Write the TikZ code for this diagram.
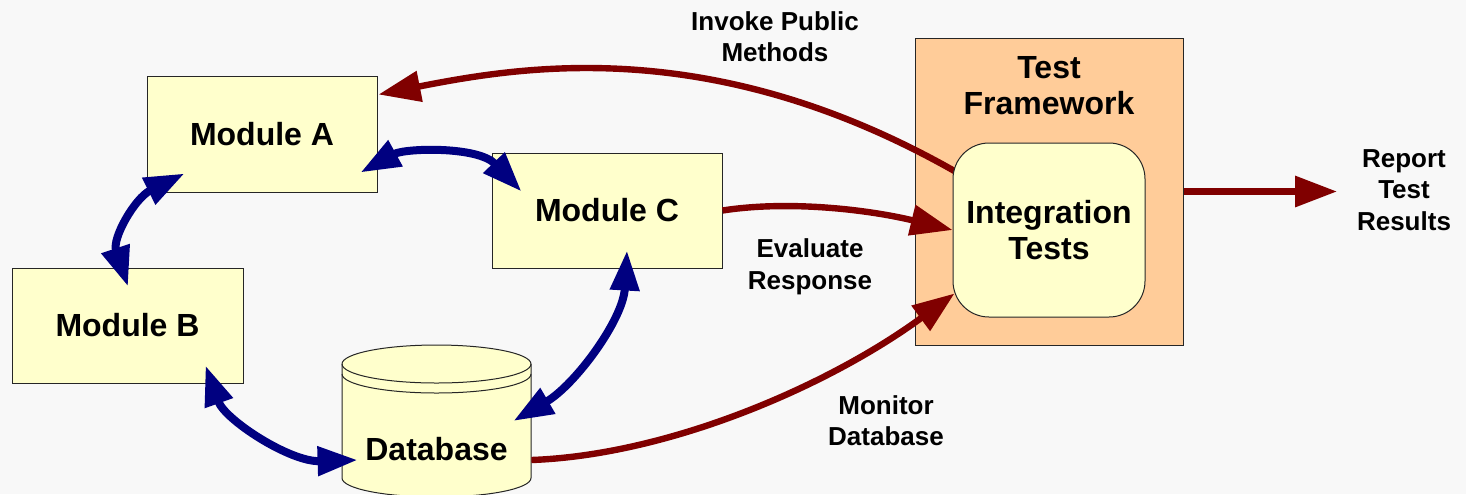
\documentclass[tikz,border=0pt]{standalone}
\usepackage{fontspec}
\setmainfont{Liberation Sans}
\usetikzlibrary{arrows.meta,calc}

\definecolor{bgcol}{HTML}{F8F8F8}
\definecolor{boxfill}{HTML}{FFFFCC}
\definecolor{fwfill}{HTML}{FFCC99}
\definecolor{edgecol}{HTML}{262626}
\definecolor{navyarrow}{HTML}{000080}
\definecolor{maroonarrow}{HTML}{800000}

\pgfdeclarelayer{under}
\pgfsetlayers{under,main}

\begin{document}
\begin{tikzpicture}[x=0.5pt,y=-0.5pt,
  module/.style={draw=edgecol, line width=0.5pt, fill=boxfill, inner sep=0pt,
    align=center, font=\fontsize{16}{18}\selectfont\bfseries},
  heading/.style={inner sep=0pt, align=center, font=\fontsize{16}{18}\selectfont\bfseries},
  caption/.style={inner sep=0pt, align=center, font=\fontsize{13}{15.75}\selectfont\bfseries},
  link/.style={navyarrow, line width=4pt,
    {Triangle[length=20pt,width=14pt]}-{Triangle[length=20pt,width=14pt]}},
  flow/.style={maroonarrow, line width=3.2pt, -{Triangle[length=21pt,width=15pt]}}]

\useasboundingbox (0,0) rectangle (1466,494);

% canvas and framework frame
\begin{pgfonlayer}{under}
  \fill[bgcol] (0,0) rectangle (1466,494);
  \node[draw=edgecol, line width=0.5pt, fill=fwfill, minimum width=134pt,
        minimum height=153.5pt] (TF) at (1049,191.5) {};
\end{pgfonlayer}
\node[heading] (tftitle) at (1049,86) {Test\\Framework};

% modules
\node[module, minimum width=115pt, minimum height=58pt] (A) at (262,134) {Module A};
\node[module, minimum width=115.5pt, minimum height=57.5pt] (B) at (127.5,325.5) {Module B};
\node[module, minimum width=115pt, minimum height=57.5pt] (C) at (607,210.5) {Module C};

% database cylinder
\node[minimum width=94.5pt, minimum height=76pt, inner sep=0pt] (db) at (436.5,421) {};
\path[fill=boxfill, draw=edgecol, line width=0.5pt]
  (342,364) -- (342,478)
  arc[start angle=180, end angle=360, x radius=47.25pt, y radius=9.5pt]
  -- (531,364)
  arc[start angle=0, end angle=180, x radius=47.25pt, y radius=9.5pt] -- cycle;
\draw[edgecol, line width=0.5pt]
  (342,364) arc[start angle=180, end angle=360, x radius=47.25pt, y radius=9.5pt];
\draw[edgecol, line width=0.5pt]
  (342,374) arc[start angle=180, end angle=360, x radius=47.25pt, y radius=9.5pt];
\node[heading] (dblabel) at (436.5,449) {Database};

% integration tests
\node[module, rounded corners=18pt, minimum width=96pt, minimum height=87pt]
  (IT) at (1049,230) {Integration\\Tests};

% captions
\node[caption] (invoke) at (775,36.5) {Invoke Public\\Methods};
\node[caption] (evaluate) at (810,267) {Evaluate\\Response};
\node[caption] (monitor) at (886,420.5) {Monitor\\Database};
\node[caption] (report) at (1404,190) {Report\\Test\\Results};
\coordinate (reportend) at (1337,191.5);

% calls from the framework, passing behind the test box
\begin{pgfonlayer}{under}
  \draw[flow] ($(IT.center)+(-74,-47)$) .. controls (725,33) and (528,65) ..
    ($(A.north east)+(1,19)$);
\end{pgfonlayer}

% module interactions
\draw[link] ($(A.south east)+(-17,-20)$) .. controls (405,148) and (478,146) ..
  ($(C.north west)+(30,39)$);
\draw[link] ($(A.south west)+(38,-19)$) .. controls (135,198) and (112,238) ..
  ($(B.north)+(0.5,19)$);
\draw[link] ($(B.south east)+(-38,-18)$) .. controls (225,420) and (290,462) ..
  ($(db.west)+(16,39)$);
\draw[link] ($(C.south)+(20,-18)$) .. controls (623,320) and (575,385) ..
  ($(db.east)+(-18,0)$);

% test flows
\draw[flow] (C.east) .. controls (790,200) and (870,210) .. (IT.west);
\draw[flow] ($(db.east)+(0,39)$) .. controls (670,455) and (830,385) ..
  ($(IT.south west)+(2,-24)$);
\draw[flow] (TF.east) -- (reportend);

\end{tikzpicture}
\end{document}
